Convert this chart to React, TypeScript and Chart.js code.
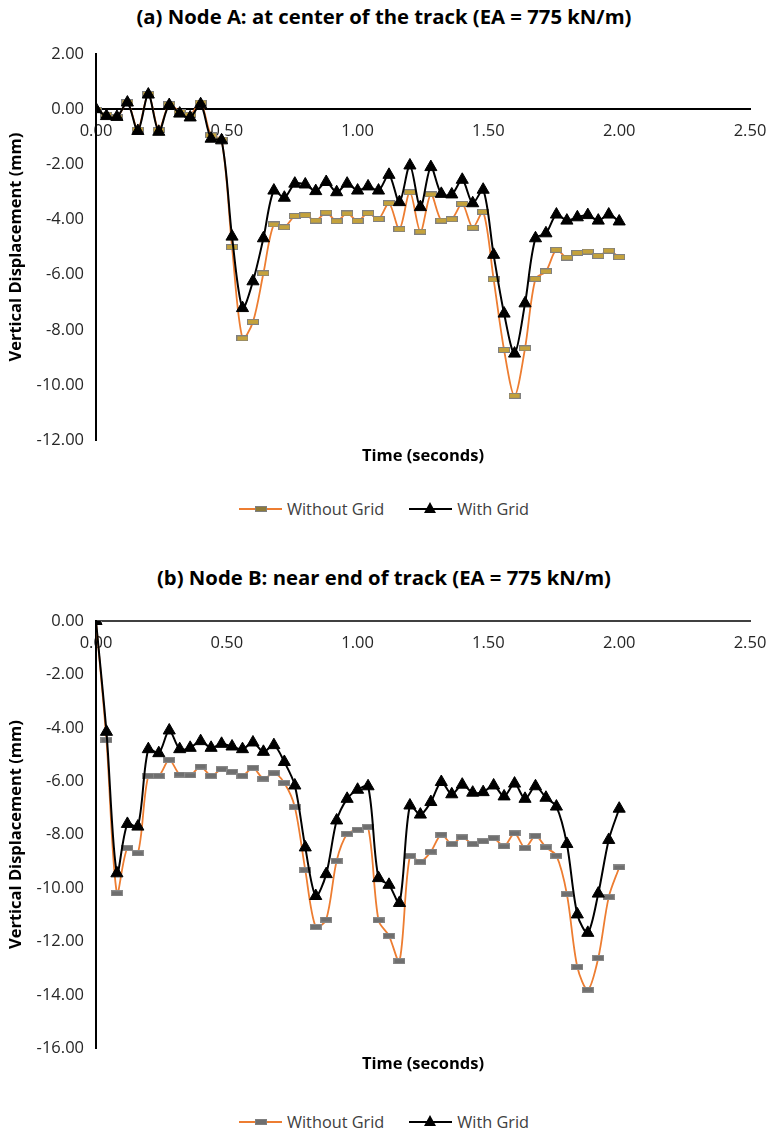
import React, { useEffect, useRef } from 'react';
import { Chart, registerables } from 'chart.js';
Chart.register(...registerables);

const TIME = [0.00, 0.04, 0.08, 0.12, 0.16, 0.20, 0.24, 0.28, 0.32, 0.36, 0.40, 0.44, 0.48, 0.52, 0.56, 0.60, 0.64, 0.68, 0.72, 0.76, 0.80, 0.84, 0.88, 0.92, 0.96, 1.00, 1.04, 1.08, 1.12, 1.16, 1.20, 1.24, 1.28, 1.32, 1.36, 1.40, 1.44, 1.48, 1.52, 1.56, 1.60, 1.64, 1.68, 1.72, 1.76, 1.80, 1.84, 1.88, 1.92, 1.96, 2.00];

const X_TICKS = [0.0, 0.5, 1.0, 1.5, 2.0, 2.5];

const A_WITH_GRID = [0.00, -0.25, -0.28, 0.24, -0.79, 0.53, -0.82, 0.15, -0.16, -0.30, 0.18, -1.07, -1.13, -4.62, -7.21, -6.24, -4.68, -2.95, -3.21, -2.70, -2.73, -2.97, -2.64, -3.01, -2.70, -2.95, -2.80, -2.95, -2.38, -3.37, -2.04, -3.55, -2.10, -3.07, -3.09, -2.56, -3.41, -2.92, -5.28, -7.41, -8.86, -7.04, -4.68, -4.50, -3.82, -4.04, -3.92, -3.84, -4.04, -3.82, -4.07];
const A_WITHOUT_GRID = [-0.02, -0.20, -0.30, 0.25, -0.74, 0.55, -0.76, 0.18, -0.10, -0.20, 0.24, -0.95, -1.10, -5.00, -8.31, -7.71, -5.95, -4.18, -4.28, -3.87, -3.84, -4.04, -3.75, -4.06, -3.78, -4.05, -3.77, -3.98, -3.41, -4.35, -3.01, -4.44, -3.09, -4.04, -3.99, -3.43, -4.30, -3.72, -6.17, -8.73, -10.39, -8.67, -6.15, -5.88, -5.10, -5.38, -5.21, -5.16, -5.32, -5.13, -5.36];

const B_WITH_GRID = [0.00, -4.15, -9.45, -7.60, -7.70, -4.80, -4.95, -4.10, -4.80, -4.75, -4.50, -4.75, -4.60, -4.70, -4.80, -4.55, -4.90, -4.65, -5.28, -6.16, -8.48, -10.30, -9.48, -7.47, -6.66, -6.32, -6.19, -9.63, -9.88, -10.56, -6.91, -7.25, -6.78, -6.03, -6.49, -6.13, -6.43, -6.41, -6.16, -6.57, -6.09, -6.66, -6.19, -6.62, -6.95, -8.35, -10.99, -11.68, -10.21, -8.20, -7.03];
const B_WITHOUT_GRID = [0.00, -4.46, -10.20, -8.50, -8.70, -5.80, -5.80, -5.20, -5.75, -5.78, -5.45, -5.80, -5.55, -5.65, -5.80, -5.50, -5.90, -5.70, -6.07, -6.97, -9.33, -11.46, -11.18, -8.98, -7.97, -7.82, -7.72, -11.21, -11.79, -12.74, -8.80, -9.02, -8.64, -8.00, -8.35, -8.10, -8.35, -8.25, -8.13, -8.44, -7.95, -8.50, -8.05, -8.48, -8.79, -10.23, -12.96, -13.81, -12.62, -10.34, -9.23];

const TITLE_A = '(a) Node A: at center of the track (EA = 775 kN/m)';
const TITLE_B = '(b) Node B: near end of track (EA = 775 kN/m)';
const X_TITLE = 'Time (seconds)';
const Y_TITLE = 'Vertical Displacement (mm)';
const SERIES_NAMES = ['Without Grid', 'With Grid'];

const ORANGE = '#ED7D31';
const FONT = '"Open Sans", "Noto Sans", sans-serif';

function makeDash(fill: string, stroke: string) {
  const c = document.createElement('canvas');
  c.width = 12;
  c.height = 6;
  const ctx = c.getContext('2d')!;
  ctx.fillStyle = fill;
  ctx.fillRect(1, 1, 10, 4);
  ctx.strokeStyle = stroke;
  ctx.lineWidth = 1;
  ctx.strokeRect(0.5, 0.5, 11, 5);
  return c;
}

type PanelProps = {
  withGrid: number[];
  withoutGrid: number[];
  yMin: number;
  yMax: number;
  dashFill: string;
  dashStroke: string;
  top: number;
  height: number;
  padTop: number;
  axisColor: string;
};

function Panel(p: PanelProps) {
  const ref = useRef<HTMLCanvasElement>(null);
  useEffect(() => {
    const dash = makeDash(p.dashFill, p.dashStroke);
    const chart = new Chart(ref.current!, {
      type: 'line',
      data: {
        datasets: [
          {
            label: SERIES_NAMES[1],
            data: TIME.map((t, i) => ({ x: t, y: p.withGrid[i] })),
            borderColor: '#000000',
            backgroundColor: '#000000',
            borderWidth: 2,
            pointStyle: 'triangle',
            pointRadius: 7,
            pointBorderWidth: 1,
            pointBackgroundColor: '#000000',
            pointBorderColor: '#000000',
            tension: 0.3,
          },
          {
            label: SERIES_NAMES[0],
            data: TIME.map((t, i) => ({ x: t, y: p.withoutGrid[i] })),
            borderColor: ORANGE,
            backgroundColor: ORANGE,
            borderWidth: 1.8,
            pointStyle: dash as any,
            pointRadius: 6,
            tension: 0.3,
          },
        ],
      },
      options: {
        responsive: false,
        animation: false,
        events: [],
        layout: { padding: { left: 1, right: 18, top: p.padTop, bottom: 16 } },
        plugins: {
          legend: { display: false },
          tooltip: { enabled: false },
          title: { display: false },
        },
        scales: {
          x: {
            type: 'linear',
            min: 0,
            max: 2.5,
            position: { y: 0 } as any,
            afterBuildTicks: (s: any) => {
              s.ticks = X_TICKS.map((v) => ({ value: v }));
            },
            afterFit: (s: any) => {
              s.paddingLeft = 0;
              s.paddingRight = 0;
            },
            ticks: {
              callback: (v: any) => Number(v).toFixed(2),
              color: '#262626',
              font: { family: FONT, size: 16.5 },
              padding: 12,
              maxRotation: 0,
              autoSkip: false,
            },
            grid: { display: false, drawTicks: false },
            border: { display: true, color: p.axisColor, width: 2 },
          },
          x2: {
            type: 'linear',
            position: 'bottom',
            min: 0,
            max: 1,
            ticks: { display: false },
            grid: { display: false, drawTicks: false },
            border: { display: false },
            title: {
              display: true,
              text: X_TITLE,
              color: '#000000',
              font: { family: FONT, size: 16.5, weight: 'bold' },
              padding: { top: 6, bottom: 0 },
            },
          },
          y: {
            type: 'linear',
            position: 'left',
            min: p.yMin,
            max: p.yMax,
            afterFit: (s: any) => {
              s.width = 95;
            },
            ticks: {
              stepSize: 2,
              callback: (v: any) => Number(v).toFixed(2),
              color: '#262626',
              font: { family: FONT, size: 16.5 },
              padding: 12,
            },
            grid: { display: false, drawTicks: false },
            border: { display: true, color: '#000000', width: 2 },
            title: {
              display: true,
              text: Y_TITLE,
              color: '#000000',
              font: { family: FONT, size: 16.5, weight: 'bold' },
              padding: { top: 5, bottom: 4 },
            },
          },
        },
      } as any,
    });
    return () => chart.destroy();
  }, []);
  return (
    <canvas
      ref={ref}
      width={768}
      height={p.height}
      style={{ position: 'absolute', left: 0, top: p.top, width: 768, height: p.height, display: 'block' }}
    />
  );
}

function Title({ top, text }: { top: number; text: string }) {
  return (
    <div
      style={{
        position: 'absolute',
        left: 0,
        top,
        width: 768,
        height: 24,
        lineHeight: '24px',
        textAlign: 'center',
        fontFamily: FONT,
        fontWeight: 'bold',
        fontSize: 20.3,
        color: '#000',
        whiteSpace: 'nowrap',
      }}
    >
      {text}
    </div>
  );
}

function Legend({ top, dashFill, dashStroke }: { top: number; dashFill: string; dashStroke: string }) {
  return (
    <div
      style={{
        position: 'absolute',
        left: 0,
        top,
        width: 768,
        height: 22,
        display: 'flex',
        justifyContent: 'center',
        alignItems: 'center',
        fontFamily: FONT,
        fontSize: 16.3,
        color: '#404040',
      }}
    >
      <div style={{ position: 'relative', width: 43, height: 22, marginRight: 5 }}>
        <div style={{ position: 'absolute', left: 0, top: 10, width: 43, height: 2, background: ORANGE }} />
        <div
          style={{
            position: 'absolute',
            left: 16,
            top: 8,
            width: 10,
            height: 4,
            background: dashFill,
            border: `1px solid ${dashStroke}`,
          }}
        />
      </div>
      <span>{SERIES_NAMES[0]}</span>
      <div style={{ width: 25 }} />
      <div style={{ position: 'relative', width: 43, height: 22, marginRight: 5 }}>
        <div style={{ position: 'absolute', left: 0, top: 10, width: 43, height: 2, background: '#000' }} />
        <div
          style={{
            position: 'absolute',
            left: 15,
            top: 4,
            width: 0,
            height: 0,
            borderLeft: '6px solid transparent',
            borderRight: '6px solid transparent',
            borderBottom: '11px solid #000',
          }}
        />
      </div>
      <span>{SERIES_NAMES[1]}</span>
    </div>
  );
}

export default function App() {
  return (
    <div style={{ position: 'absolute', left: 0, top: 0, width: 768, height: 1131, background: '#fff', overflow: 'hidden' }}>
      <Title top={4} text={TITLE_A} />
      <Panel
        withGrid={A_WITH_GRID}
        withoutGrid={A_WITHOUT_GRID}
        yMin={-12}
        yMax={2}
        dashFill="#C4A23C"
        dashStroke="#808080"
        top={0}
        height={482}
        padTop={54}
        axisColor="#000000"
      />
      <Legend top={498} dashFill="#8C7A3A" dashStroke="#7F7F7F" />
      <Title top={565} text={TITLE_B} />
      <Panel
        withGrid={B_WITH_GRID}
        withoutGrid={B_WITHOUT_GRID}
        yMin={-16}
        yMax={0}
        dashFill="#6F6F6F"
        dashStroke="#8A8A8A"
        top={561}
        height={529}
        padTop={60}
        axisColor="#404040"
      />
      <Legend top={1111} dashFill="#6F6F6F" dashStroke="#7F7F7F" />
    </div>
  );
}
